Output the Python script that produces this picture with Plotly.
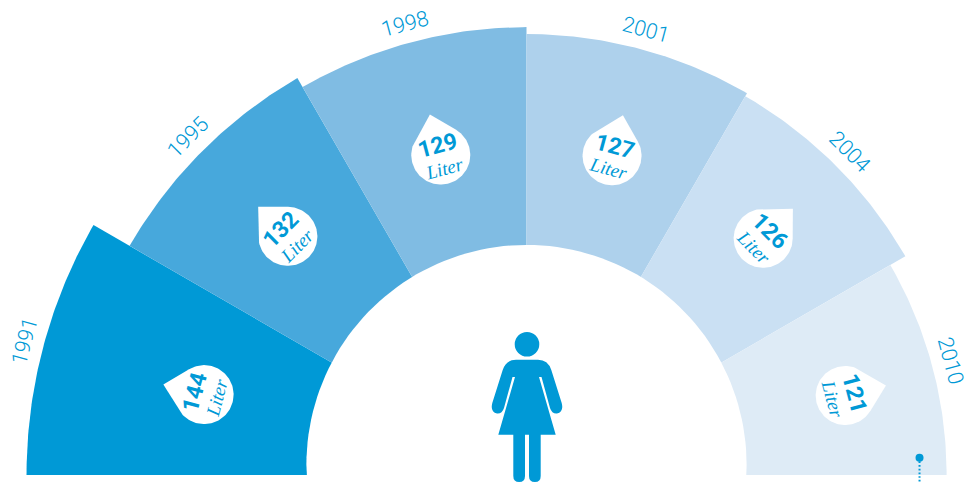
import numpy as np
import plotly.graph_objects as go

years = ["1991", "1995", "1998", "2001", "2004", "2010"]
liters = [144, 132, 129, 127, 126, 121]
sector_start = [150, 120, 90, 60, 30, 0]
sector_span = [30, 30, 30, 30, 30, 30]
sector_colors = ["#0099d6", "#47a8dc", "#80bce3", "#aed1ec", "#cae0f3", "#deebf6"]
hole_value = 63.4
hole_shift = 2.88
drop_theta = [166, 135, 105, 75, 45, 14]
drop_value = [95.7, 97.2, 95.4, 95.2, 96.4, 94.6]
text_angle = [-75, -45, -15, 15, 45, 75]

W, H = 969, 482
CX, CY = 526.5, 475        # centre of the fan on the page, px
PX = 3.472                 # px per litre
BLUE = "#0099d6"


def pol(r, deg):
    a = np.radians(deg)
    return r * np.cos(a), r * np.sin(a)


def px(x):
    return x / W


def py(y):
    return 1 - y / H


fig = go.Figure()

for st, sp, val, col in zip(sector_start, sector_span, liters, sector_colors):
    t = np.linspace(st, st + sp, 60)
    xo, yo = pol(val, t)
    fig.add_trace(go.Scatter(x=np.r_[0, xo, 0], y=np.r_[0, yo, 0], mode="lines", fill="toself",
                             fillcolor=col, line=dict(width=0), hoverinfo="skip", showlegend=False))

# white centre
t = np.linspace(0, 360, 181)
hx, hy = pol(hole_value, t)
fig.add_trace(go.Scatter(x=hx, y=hy + hole_shift, mode="lines", fill="toself", fillcolor="white",
                         line=dict(width=0), hoverinfo="skip", showlegend=False))

# water drops
DR = 29.5 / PX
TIP = 42 / PX
half = np.degrees(np.arccos(DR / TIP))
for th, rv in zip(drop_theta, drop_value):
    cx, cy = pol(rv, th)
    t = np.linspace(th + half, th + 360 - half, 90)
    ex, ey = pol(DR, t)
    tx, ty = pol(TIP, th)
    fig.add_trace(go.Scatter(x=np.r_[cx + tx, cx + ex, cx + tx], y=np.r_[cy + ty, cy + ey, cy + ty],
                             mode="lines", fill="toself", fillcolor="white", line=dict(width=0),
                             hoverinfo="skip", showlegend=False))

# leader line + dot at 2010
fig.add_trace(go.Scatter(x=[113.2, 113.2], y=[5, -2.2], mode="lines",
                         line=dict(color=BLUE, width=2, dash="1.7px,2px"),
                         hoverinfo="skip", showlegend=False))
fig.add_trace(go.Scatter(x=[113.2], y=[5], mode="markers", marker=dict(color=BLUE, size=8),
                         hoverinfo="skip", showlegend=False))

anns = []
for i, y in enumerate(years):
    th = sector_start[i] + sector_span[i] / 2
    x0, y0 = pol(liters[i] + 5.7, th)
    anns.append(dict(x=x0, y=y0, xref="x", yref="y", text=y, showarrow=False, textangle=text_angle[i],
                     xanchor="center", yanchor="middle",
                     font=dict(family="Roboto", size=21.5, color=BLUE, weight=300)))
    dt = drop_theta[i]
    cx, cy = pol(drop_value[i], dt)
    nx, ny = pol(9.8 / PX, dt)
    lx, ly = pol(-13.5 / PX, dt)
    anns.append(dict(x=cx + nx, y=cy + ny, xref="x", yref="y", text=str(liters[i]), showarrow=False,
                     textangle=text_angle[i], xanchor="center", yanchor="middle",
                     font=dict(family="Roboto", size=23, color=BLUE, weight="bold")))
    anns.append(dict(x=cx + lx, y=cy + ly, xref="x", yref="y", text="Liter", showarrow=False,
                     textangle=text_angle[i], xanchor="center", yanchor="middle",
                     font=dict(family="Liberation Serif", size=19, color=BLUE, style="italic")))


def path(cmds):
    out = []
    for c in cmds:
        if len(c) == 1:
            out.append(c[0])
        else:
            pts = " ".join(f"{px(c[k]):.5f},{py(c[k + 1]):.5f}" for k in range(1, len(c), 2))
            out.append(f"{c[0]}{pts}")
    return " ".join(out)


body = path([("M", 516, 359.7), ("Q", 506, 359.7, 502.7, 370), ("L", 492.3, 403), ("Q", 490, 412, 497, 413.5),
             ("Q", 502, 414, 504, 408), ("L", 512.5, 377), ("L", 515, 377), ("L", 498.3, 434.7), ("L", 555.7, 434.7),
             ("L", 539, 377), ("L", 541.5, 377), ("L", 550, 408), ("Q", 552, 414, 557, 413.5),
             ("Q", 564, 412, 561.7, 403), ("L", 551.3, 370), ("Q", 548, 359.7, 538, 359.7), ("Z",)])
leg_l = path([("M", 513.3, 434), ("L", 525, 434), ("L", 525, 476), ("Q", 525, 482, 519.2, 482),
              ("Q", 513.3, 482, 513.3, 476), ("Z",)])
leg_r = path([("M", 529, 434), ("L", 540.7, 434), ("L", 540.7, 476), ("Q", 540.7, 482, 534.9, 482),
              ("Q", 529, 482, 529, 476), ("Z",)])
shapes = [dict(type="path", xref="paper", yref="paper", path=p, fillcolor=BLUE, line=dict(width=0), layer="above")
          for p in (body, leg_l, leg_r)]
shapes.append(dict(type="circle", xref="paper", yref="paper", x0=px(514.7), x1=px(539.3), y0=py(356.6), y1=py(332),
                   fillcolor=BLUE, line=dict(width=0), layer="above"))

fig.update_layout(
    width=W, height=H, margin=dict(l=0, r=0, t=0, b=0),
    paper_bgcolor="white", plot_bgcolor="white", showlegend=False,
    xaxis=dict(visible=False, range=[-CX / PX, (W - CX) / PX], fixedrange=True),
    yaxis=dict(visible=False, range=[(CY - H) / PX, CY / PX], fixedrange=True),
    annotations=anns, shapes=shapes,
)
fig.write_html("out.html", config={"displayModeBar": False},
               post_script="document.body.style.margin='0';document.documentElement.style.overflow='hidden';")
